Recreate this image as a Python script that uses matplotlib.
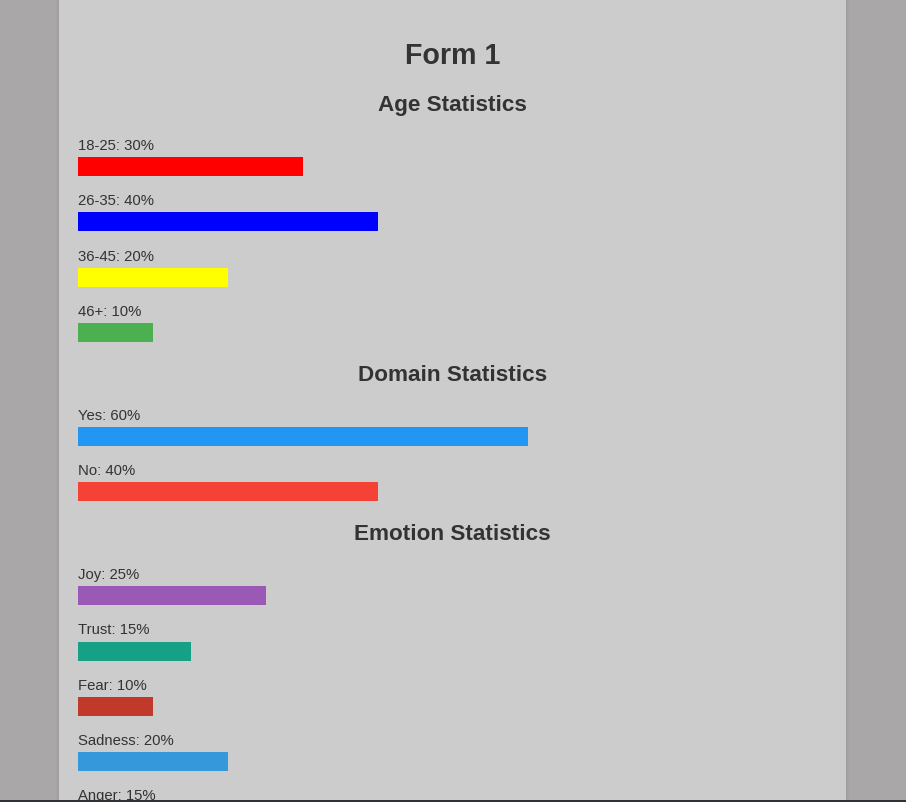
import numpy as np
import matplotlib.pyplot as plt
import matplotlib.patches as mpatches

# data
title = "Form 1"
age_labels = ["18-25", "26-35", "36-45", "46+"]
age_values = [30, 40, 20, 10]
age_colors = ["#ff0000", "#0000ff", "#ffff00", "#4caf50"]

domain_labels = ["Yes", "No"]
domain_values = [60, 40]
domain_colors = ["#2196f3", "#f44336"]

emotion_labels = ["Joy", "Trust", "Fear", "Sadness", "Anger"]
emotion_values = [25, 15, 10, 20, 15]
emotion_colors = ["#9b59b6", "#16a085", "#c0392b", "#3498db", "#e74c3c"]

sections = [
    ("Age Statistics", age_labels, age_values, age_colors),
    ("Domain Statistics", domain_labels, domain_values, domain_colors),
    ("Emotion Statistics", emotion_labels, emotion_values, emotion_colors),
]

W, H = 906, 802
plt.rcParams['font.family'] = ['Liberation Sans', 'DejaVu Sans']
txt = "#333333"

fig = plt.figure(figsize=(W / 100, H / 100), dpi=100)
fig.patch.set_facecolor("#a9a7a7")

# page background axes in pixel coords
bg = fig.add_axes([0, 0, 1, 1])
bg.set_xlim(0, W)
bg.set_ylim(H, 0)
bg.axis('off')
for k in range(3):  # soft shadow
    bg.add_patch(mpatches.Rectangle((59 - 1 - k, -5), 787 + 2 + 2 * k, H + 10,
                                    facecolor="#000000", alpha=0.015, lw=0))
bg.add_patch(mpatches.Rectangle((59, -5), 787, H + 10, facecolor="#cccccc", lw=0))
bg.add_patch(mpatches.Rectangle((0, 800), W, 3, facecolor="#2d3238", lw=0, zorder=5))

center = (59 + 846) / 2
bg.text(center, 64, title, ha='center', va='baseline', fontsize=20.6,
        fontweight='bold', color=txt)

# bar axes: 0..100 % spans x = 78..828 px
x0, x1 = 78, 828
ax = fig.add_axes([x0 / W, 0, (x1 - x0) / W, 1])
ax.set_xlim(0, 100)
ax.set_ylim(H, 0)
ax.axis('off')

y = 111  # heading baseline
for name, labels, vals, cols in sections:
    bg.text(center, y, name, ha='center', va='baseline', fontsize=16.2,
            fontweight='bold', color=txt)
    yy = y + 39
    for lab, v, c in zip(labels, vals, cols):
        ax.text(0, yy, f"{lab}: {v}%", ha='left', va='baseline', fontsize=10.7,
                color=txt)
        ax.barh(yy + 7, v, height=19, left=0, color=c, align='edge')
        yy += 55.3
    y = yy - 55.3 + 65

fig.savefig("out.png", dpi=100, facecolor=fig.get_facecolor())
